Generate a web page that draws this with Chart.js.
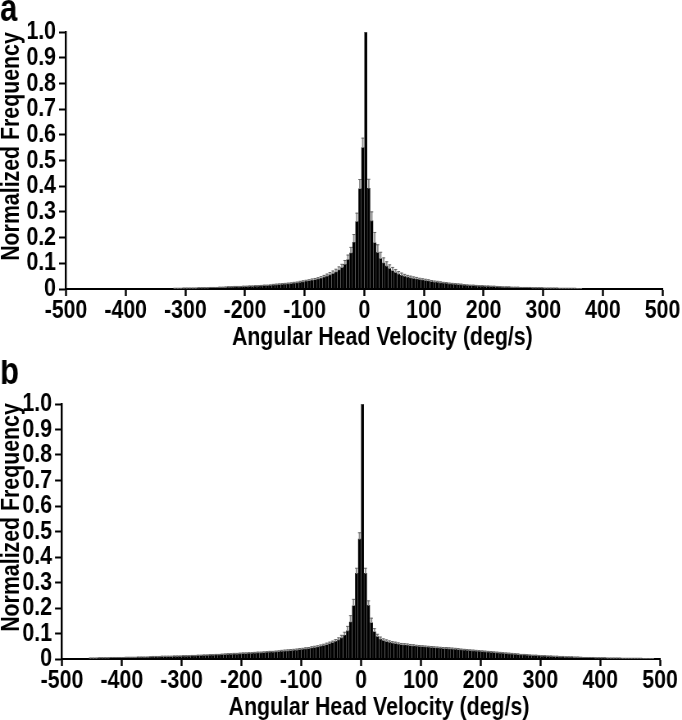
<!DOCTYPE html>
<html><head><meta charset="utf-8">
<script src="https://cdn.jsdelivr.net/npm/chart.js@4/dist/chart.umd.min.js"></script>
<style>
html,body{margin:0;padding:0;background:#fff;}
.panel{position:relative;width:682px;height:360px;overflow:hidden;}
.panel canvas{display:block;transform-origin:0 0;}
</style></head><body>
<div class="panel"><canvas id="chartA"></canvas></div>
<div class="panel"><canvas id="chartB"></canvas></div>
<script>
// ---------- data ----------
const panelLetters = ['a', 'b'];
const xAxisTitle = 'Angular Head Velocity (deg/s)';
const yAxisTitle = 'Normalized Frequency';
const xTickValues = [-500,-400,-300,-200,-100,0,100,200,300,400,500];
const xTickLabels = ['-500','-400','-300','-200','-100','0','100','200','300','400','500'];
const yTickValues = [0,0.1,0.2,0.3,0.4,0.5,0.6,0.7,0.8,0.9,1.0];
const yTickLabels = ['0','0.1','0.2','0.3','0.4','0.5','0.6','0.7','0.8','0.9','1.0'];

// panel a: bin centres (deg/s), normalized frequency, error (SEM)
const binsA = [
-317.5,-312.5,-307.5,-302.5,-297.5,-292.5,-287.5,-282.5,-277.5,-272.5,
-267.5,-262.5,-257.5,-252.5,-247.5,-242.5,-237.5,-232.5,-227.5,-222.5,
-217.5,-212.5,-207.5,-202.5,-197.5,-192.5,-187.5,-182.5,-177.5,-172.5,
-167.5,-162.5,-157.5,-152.5,-147.5,-142.5,-137.5,-132.5,-127.5,-122.5,
-117.5,-112.5,-107.5,-102.5,-97.5,-92.5,-87.5,-82.5,-77.5,-72.5,
-67.5,-62.5,-57.5,-52.5,-47.5,-42.5,-37.5,-32.5,-27.5,-22.5,
-17.5,-12.5,-7.5,-2.5,
2.5,7.5,12.5,17.5,22.5,27.5,32.5,37.5,42.5,47.5,
52.5,57.5,62.5,67.5,72.5,77.5,82.5,87.5,92.5,97.5,
102.5,107.5,112.5,117.5,122.5,127.5,132.5,137.5,142.5,147.5,
152.5,157.5,162.5,167.5,172.5,177.5,182.5,187.5,192.5,197.5,
202.5,207.5,212.5,217.5,222.5,227.5,232.5,237.5,242.5,247.5,
252.5,257.5,262.5,267.5,272.5,277.5,282.5,287.5,292.5,297.5,
302.5,307.5,312.5,317.5,322.5,327.5,332.5,337.5,342.5,347.5,
352.5,357.5,362.5
];
const freqA = [
0.002,0.002,0.002,0.003,0.003,0.003,0.003,0.003,0.004,0.004,
0.004,0.004,0.005,0.005,0.005,0.006,0.006,0.006,0.007,0.007,
0.008,0.008,0.008,0.009,0.009,0.010,0.010,0.011,0.011,0.012,
0.013,0.013,0.014,0.015,0.016,0.017,0.018,0.019,0.020,0.021,
0.023,0.024,0.026,0.028,0.030,0.032,0.034,0.036,0.039,0.042,
0.046,0.050,0.055,0.060,0.066,0.074,0.083,0.096,0.114,0.140,
0.182,0.262,0.390,0.550,
1.000,0.392,0.265,0.180,0.142,0.118,0.101,0.089,0.079,0.071,
0.064,0.058,0.053,0.049,0.046,0.043,0.041,0.039,0.037,0.035,
0.033,0.031,0.029,0.027,0.026,0.024,0.023,0.022,0.020,0.019,
0.018,0.017,0.016,0.015,0.014,0.013,0.013,0.012,0.011,0.011,
0.010,0.010,0.009,0.009,0.008,0.008,0.007,0.007,0.007,0.006,
0.006,0.006,0.005,0.005,0.005,0.005,0.004,0.004,0.004,0.004,
0.003,0.003,0.003,0.003,0.003,0.002,0.002,0.002,0.002,0.002,
0.002,0.001,0.001
];
const errA = [
0.001,0.001,0.001,0.001,0.001,0.001,0.001,0.001,0.001,0.001,
0.001,0.001,0.001,0.001,0.001,0.001,0.001,0.002,0.002,0.002,
0.002,0.002,0.002,0.002,0.002,0.002,0.002,0.002,0.002,0.002,
0.002,0.002,0.002,0.003,0.003,0.003,0.003,0.003,0.003,0.003,
0.003,0.003,0.004,0.004,0.004,0.004,0.005,0.005,0.005,0.006,
0.007,0.008,0.009,0.010,0.011,0.012,0.013,0.015,0.018,0.022,
0.030,0.033,0.036,0.037,
0.000,0.035,0.035,0.040,0.030,0.025,0.020,0.017,0.015,0.013,
0.012,0.010,0.009,0.008,0.007,0.007,0.006,0.006,0.005,0.005,
0.005,0.005,0.004,0.004,0.004,0.004,0.003,0.003,0.003,0.003,
0.003,0.003,0.003,0.002,0.002,0.002,0.002,0.002,0.002,0.002,
0.002,0.002,0.002,0.002,0.002,0.001,0.001,0.001,0.001,0.001,
0.001,0.001,0.001,0.001,0.001,0.001,0.001,0.001,0.001,0.001,
0.001,0.001,0.001,0.001,0.001,0.001,0.001,0.001,0.001,0.001,
0.001,0.001,0.001
];

// panel b
const binsB = [
-452.5,-447.5,-442.5,-437.5,-432.5,-427.5,-422.5,-417.5,-412.5,-407.5,-402.5,
-397.5,-392.5,-387.5,-382.5,-377.5,-372.5,-367.5,-362.5,-357.5,-352.5,
-347.5,-342.5,-337.5,-332.5,-327.5,-322.5,-317.5,-312.5,-307.5,-302.5,
-297.5,-292.5,-287.5,-282.5,-277.5,-272.5,-267.5,-262.5,-257.5,-252.5,
-247.5,-242.5,-237.5,-232.5,-227.5,-222.5,-217.5,-212.5,-207.5,-202.5,
-197.5,-192.5,-187.5,-182.5,-177.5,-172.5,-167.5,-162.5,-157.5,-152.5,
-147.5,-142.5,-137.5,-132.5,-127.5,-122.5,-117.5,-112.5,-107.5,-102.5,
-97.5,-92.5,-87.5,-82.5,-77.5,-72.5,-67.5,-62.5,-57.5,-52.5,
-47.5,-42.5,-37.5,-32.5,-27.5,-22.5,-17.5,-12.5,-7.5,-2.5,
2.5,7.5,12.5,17.5,22.5,27.5,32.5,37.5,42.5,47.5,
52.5,57.5,62.5,67.5,72.5,77.5,82.5,87.5,92.5,97.5,
102.5,107.5,112.5,117.5,122.5,127.5,132.5,137.5,142.5,147.5,
152.5,157.5,162.5,167.5,172.5,177.5,182.5,187.5,192.5,197.5,
202.5,207.5,212.5,217.5,222.5,227.5,232.5,237.5,242.5,247.5,
252.5,257.5,262.5,267.5,272.5,277.5,282.5,287.5,292.5,297.5,
302.5,307.5,312.5,317.5,322.5,327.5,332.5,337.5,342.5,347.5,
352.5,357.5,362.5,367.5,372.5,377.5,382.5,387.5,392.5,397.5,
402.5,407.5,412.5,417.5,422.5,427.5,432.5,437.5,442.5,447.5,
452.5,457.5,462.5,467.5,472.5,477.5,482.5,487.5
];
const freqB = [
0.003,0.003,0.003,0.004,0.004,0.004,0.004,0.005,0.005,0.005,0.005,
0.005,0.006,0.006,0.006,0.006,0.007,0.007,0.007,0.007,0.008,
0.008,0.008,0.008,0.009,0.009,0.009,0.009,0.010,0.010,0.010,
0.011,0.011,0.011,0.012,0.012,0.013,0.013,0.014,0.014,0.015,
0.015,0.016,0.016,0.017,0.017,0.018,0.018,0.019,0.019,0.020,
0.021,0.021,0.022,0.022,0.023,0.024,0.024,0.025,0.026,0.027,
0.027,0.028,0.029,0.030,0.031,0.032,0.033,0.034,0.035,0.037,
0.038,0.040,0.041,0.043,0.045,0.047,0.050,0.053,0.056,0.060,
0.064,0.069,0.075,0.083,0.093,0.110,0.145,0.209,0.336,0.470,
1.000,0.336,0.210,0.142,0.107,0.088,0.078,0.072,0.068,0.065,
0.062,0.060,0.058,0.056,0.055,0.054,0.052,0.051,0.050,0.049,
0.048,0.047,0.046,0.045,0.044,0.043,0.042,0.041,0.041,0.040,
0.039,0.038,0.037,0.036,0.035,0.034,0.033,0.032,0.031,0.030,
0.029,0.028,0.027,0.026,0.025,0.024,0.023,0.022,0.021,0.020,
0.019,0.018,0.017,0.016,0.016,0.015,0.014,0.013,0.013,0.012,
0.011,0.011,0.010,0.010,0.009,0.009,0.008,0.008,0.007,0.007,
0.007,0.006,0.006,0.006,0.005,0.005,0.005,0.005,0.004,0.004,
0.004,0.004,0.003,0.003,0.003,0.003,0.003,0.002,0.002,0.002,
0.002,0.002,0.002,0.002,0.001,0.001,0.001,0.001
];
const errB = [
0.001,0.001,0.001,0.001,0.001,0.001,0.001,0.001,0.001,0.001,0.001,
0.001,0.001,0.001,0.001,0.001,0.001,0.001,0.001,0.001,0.001,
0.002,0.002,0.002,0.002,0.002,0.002,0.002,0.002,0.002,0.002,
0.002,0.002,0.002,0.002,0.002,0.002,0.002,0.002,0.002,0.002,
0.002,0.002,0.002,0.002,0.003,0.003,0.003,0.003,0.003,0.003,
0.003,0.003,0.003,0.003,0.003,0.003,0.003,0.003,0.003,0.003,
0.003,0.003,0.003,0.004,0.004,0.004,0.004,0.004,0.004,0.004,
0.004,0.004,0.004,0.005,0.005,0.005,0.005,0.005,0.006,0.006,
0.006,0.007,0.008,0.010,0.012,0.018,0.025,0.025,0.020,0.025,
0.000,0.020,0.018,0.018,0.012,0.009,0.008,0.007,0.007,0.006,
0.006,0.006,0.005,0.005,0.005,0.005,0.005,0.005,0.004,0.004,
0.004,0.004,0.004,0.004,0.004,0.004,0.004,0.004,0.004,0.004,
0.004,0.004,0.004,0.003,0.003,0.003,0.003,0.003,0.003,0.003,
0.003,0.003,0.003,0.003,0.003,0.003,0.003,0.003,0.003,0.003,
0.003,0.003,0.003,0.002,0.002,0.002,0.002,0.002,0.002,0.002,
0.002,0.002,0.002,0.002,0.002,0.002,0.002,0.002,0.002,0.002,
0.002,0.002,0.002,0.001,0.001,0.001,0.001,0.001,0.001,0.001,
0.001,0.001,0.001,0.001,0.001,0.001,0.001,0.001,0.001,0.001,
0.001,0.001,0.001,0.001,0.001,0.001,0.001,0.001
];

// ---------- chart ----------
// The reference uses a narrow bold sans; no narrow face is installed, so each
// canvas is drawn wider and compressed horizontally by K (Arial Narrow = 82% of Arial).
const FONT = "'Liberation Sans',Arial,Helvetica,sans-serif";
const CW = 832, CH = 360, K = 682 / CW;

const axisTitlePlugin = {
  id: 'axisTitles',
  afterDraw(chart, args, o) {
    const {ctx, chartArea: a} = chart;
    ctx.save();
    ctx.fillStyle = '#000';
    ctx.font = 'bold ' + o.size + 'px ' + FONT;
    ctx.textAlign = 'center';
    ctx.textBaseline = 'middle';
    ctx.fillText(o.xText, (a.left + a.right) / 2 + o.xShift / K, o.xY);
    ctx.translate(o.yX / K, (a.top + a.bottom) / 2 + o.yShift);
    ctx.rotate(-Math.PI / 2);
    ctx.scale(K, 1 / K);
    ctx.fillText(o.yText, 0, 0);
    ctx.restore();
  }
};

function buildPanel(canvasId, letter, bins, freq, err, lay) {
  const cv = document.getElementById(canvasId);
  cv.width = CW; cv.height = CH;
  cv.style.width = CW + 'px'; cv.style.height = CH + 'px';
  cv.style.transform = 'scaleX(' + K + ')';
  const barData = bins.map((x, i) => ({x: x, y: freq[i]}));
  const whiskerData = bins.map((x, i) => ({x: x, y: [freq[i], freq[i] + err[i]]}));
  const capData = bins.map((x, i) => ({x: x, y: freq[i] + err[i]}));
  const tickFont = {family: FONT, weight: 'bold', size: 26, lineHeight: 1};
  return new Chart(cv, {
    type: 'bar',
    data: {
      datasets: [
        {type: 'bar', data: barData, backgroundColor: '#000', borderWidth: 0,
         barThickness: lay.barW / K, grouped: false, order: 3},
        {type: 'bar', data: whiskerData, backgroundColor: '#8c8c8c', borderWidth: 0,
         barThickness: 1 / K, grouped: false, order: 2},
        {type: 'scatter', data: capData, pointStyle: 'line', pointRadius: 1.5 / K,
         borderColor: '#666', borderWidth: 1, order: 1}
      ]
    },
    plugins: [axisTitlePlugin],
    options: {
      responsive: false,
      animation: false,
      devicePixelRatio: 1,
      events: [],
      layout: {padding: {left: 0, right: (682 - lay.right) / K, top: 0, bottom: 0}},
      plugins: {
        legend: {display: false},
        tooltip: {enabled: false},
        title: {display: true, text: letter, align: 'start',
          color: '#000', font: {family: FONT, weight: 'bold', size: 38, lineHeight: lay.letterLH},
          padding: {top: 0, bottom: lay.letterPad}},
        axisTitles: {xText: xAxisTitle, yText: yAxisTitle, size: 26,
          xShift: 18, xY: lay.xTitleY, yX: 12, yShift: -14}
      },
      scales: {
        x: {
          type: 'linear', min: -500, max: 500, offset: false,
          afterBuildTicks: s => { s.ticks = xTickValues.map(v => ({value: v})); },
          afterFit: s => { s.height = CH - lay.bottom; },
          ticks: {color: '#000', padding: 2, maxRotation: 0, autoSkip: false,
            font: tickFont, callback: (v, i) => xTickLabels[i]},
          grid: {display: true, drawOnChartArea: false, drawTicks: true, offset: false,
            tickLength: 7, tickWidth: 2 / K, tickColor: '#000'},
          border: {display: true, color: '#000', width: 2}
        },
        y: {
          type: 'linear', min: 0, max: 1,
          afterBuildTicks: s => { s.ticks = yTickValues.map(v => ({value: v})); },
          afterFit: s => { s.width = lay.left / K; },
          ticks: {color: '#000', padding: 3 / K, autoSkip: false,
            font: tickFont, callback: (v, i) => yTickLabels[i]},
          grid: {display: true, drawOnChartArea: false, drawTicks: true,
            tickLength: 7 / K, tickWidth: 2, tickColor: '#000'},
          border: {display: true, color: '#000', width: 2 / K}
        }
      }
    }
  });
}

buildPanel('chartA', panelLetters[0], binsA, freqA, errA,
  {barW: 2.3, left: 66, right: 663, bottom: 289, letterLH: 0.55, letterPad: 11.1, xTitleY: 338});
buildPanel('chartB', panelLetters[1], binsB, freqB, errB,
  {barW: 2.3, left: 62, right: 660, bottom: 299, letterLH: 0.70, letterPad: 17.4, xTitleY: 348});
</script>
</body></html>
